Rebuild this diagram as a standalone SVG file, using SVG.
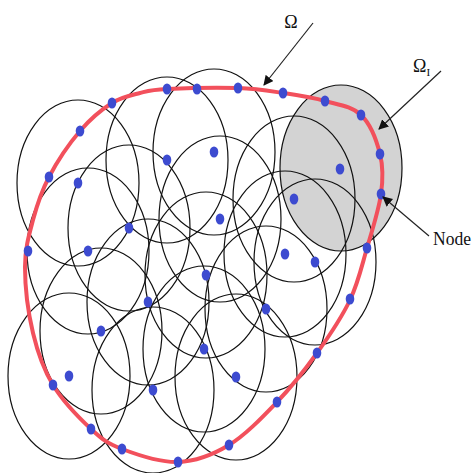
<svg xmlns="http://www.w3.org/2000/svg" width="476" height="473" viewBox="0 0 476 473">
<style>
.dom{fill:none;stroke:#111;stroke-width:1.2}
.sub{fill:#d3d3d3;stroke:#111;stroke-width:1.2}
.bnd{fill:none;stroke:#f2505c;stroke-width:4;stroke-linejoin:round}
.nd{fill:#3d4bd0}
.arr{stroke:#222;stroke-width:1.2;fill:none;marker-end:url(#ah)}
.lbl{font-family:"Liberation Serif","DejaVu Serif",serif;fill:#111}
</style>
<defs>
<marker id="ah" viewBox="0 0 10 10" refX="9" refY="5" markerWidth="10" markerHeight="10" markerUnits="userSpaceOnUse" orient="auto">
<path d="M0,0 L10,5 L0,10 z" fill="#111"/>
</marker>
</defs>
<rect width="476" height="473" fill="#fff"/>
<g id="subdomain">
<ellipse class="sub" cx="341" cy="168" rx="61" ry="83"/>
</g>
<g id="support-domains">
<ellipse class="dom" cx="78" cy="183" rx="61" ry="83"/>
<ellipse class="dom" cx="167" cy="160" rx="61" ry="83"/>
<ellipse class="dom" cx="214" cy="152" rx="61" ry="83"/>
<ellipse class="dom" cx="129" cy="228" rx="61" ry="83"/>
<ellipse class="dom" cx="220" cy="219" rx="61" ry="83"/>
<ellipse class="dom" cx="88" cy="251" rx="61" ry="83"/>
<ellipse class="dom" cx="148" cy="302" rx="61" ry="83"/>
<ellipse class="dom" cx="101" cy="331" rx="61" ry="83"/>
<ellipse class="dom" cx="69" cy="376" rx="61" ry="83"/>
<ellipse class="dom" cx="206" cy="275" rx="61" ry="83"/>
<ellipse class="dom" cx="204" cy="349" rx="61" ry="83"/>
<ellipse class="dom" cx="153" cy="390" rx="61" ry="83"/>
<ellipse class="dom" cx="236" cy="377" rx="61" ry="83"/>
<ellipse class="dom" cx="266" cy="309" rx="61" ry="83"/>
<ellipse class="dom" cx="285" cy="254" rx="61" ry="83"/>
<ellipse class="dom" cx="315" cy="262" rx="61" ry="83"/>
<ellipse class="dom" cx="294" cy="199" rx="61" ry="83"/>
</g>
<g id="boundary">
<path class="bnd" d="M140,93 C149.2,90.7 150.7,89.8 167,89 C183.3,88.2 218.7,87.3 238,88 C257.3,88.7 268.5,90.8 283,93 C297.5,95.2 312,97.3 325,101 C338,104.7 351.8,106.2 361,115 C370.2,123.8 376.7,140.8 380,154 C383.3,167.2 383.2,178.3 381,194 C378.8,209.7 372.2,230.3 367,248 C361.8,265.7 358.3,282.5 350,300 C341.7,317.5 329.2,336 317,353 C304.8,370 291.7,386.7 277,402 C262.3,417.3 245.5,435 229,445 C212.5,455 195.8,461.3 178,462 C160.2,462.7 136.5,454.5 122,449 C107.5,443.5 102.5,439.7 91,429 C79.5,418.3 62.7,401 53,385 C43.3,369 37.7,352.7 33,333 C28.3,313.3 25,285.8 25,267 C25,248.2 29,235 33,220 C37,205 41.2,191.8 49,177 C56.8,162.2 69.5,143.3 80,131 C90.5,118.7 102,109.3 112,103 C122,96.7 130.8,95.3 140,93 Z"/>
</g>
<g id="nodes">
<ellipse class="nd" cx="112" cy="103" rx="4.3" ry="5.5"/>
<ellipse class="nd" cx="80" cy="131" rx="4.3" ry="5.5"/>
<ellipse class="nd" cx="49" cy="177" rx="4.3" ry="5.5"/>
<ellipse class="nd" cx="28" cy="251" rx="4.3" ry="5.5"/>
<ellipse class="nd" cx="53" cy="385" rx="4.3" ry="5.5"/>
<ellipse class="nd" cx="91" cy="429" rx="4.3" ry="5.5"/>
<ellipse class="nd" cx="122" cy="449" rx="4.3" ry="5.5"/>
<ellipse class="nd" cx="178" cy="462" rx="4.3" ry="5.5"/>
<ellipse class="nd" cx="229" cy="445" rx="4.3" ry="5.5"/>
<ellipse class="nd" cx="277" cy="402" rx="4.3" ry="5.5"/>
<ellipse class="nd" cx="317" cy="353" rx="4.3" ry="5.5"/>
<ellipse class="nd" cx="350" cy="299" rx="4.3" ry="5.5"/>
<ellipse class="nd" cx="367" cy="248" rx="4.3" ry="5.5"/>
<ellipse class="nd" cx="381" cy="194" rx="4.3" ry="5.5"/>
<ellipse class="nd" cx="380" cy="154" rx="4.3" ry="5.5"/>
<ellipse class="nd" cx="361" cy="115" rx="4.3" ry="5.5"/>
<ellipse class="nd" cx="325" cy="101" rx="4.3" ry="5.5"/>
<ellipse class="nd" cx="283" cy="93" rx="4.3" ry="5.5"/>
<ellipse class="nd" cx="238" cy="88" rx="4.3" ry="5.5"/>
<ellipse class="nd" cx="197" cy="89" rx="4.3" ry="5.5"/>
<ellipse class="nd" cx="167" cy="89" rx="4.3" ry="5.5"/>
<ellipse class="nd" cx="78" cy="183" rx="4.3" ry="5.5"/>
<ellipse class="nd" cx="167" cy="160" rx="4.3" ry="5.5"/>
<ellipse class="nd" cx="214" cy="152" rx="4.3" ry="5.5"/>
<ellipse class="nd" cx="129" cy="228" rx="4.3" ry="5.5"/>
<ellipse class="nd" cx="220" cy="219" rx="4.3" ry="5.5"/>
<ellipse class="nd" cx="88" cy="251" rx="4.3" ry="5.5"/>
<ellipse class="nd" cx="148" cy="302" rx="4.3" ry="5.5"/>
<ellipse class="nd" cx="101" cy="331" rx="4.3" ry="5.5"/>
<ellipse class="nd" cx="69" cy="376" rx="4.3" ry="5.5"/>
<ellipse class="nd" cx="206" cy="275" rx="4.3" ry="5.5"/>
<ellipse class="nd" cx="204" cy="349" rx="4.3" ry="5.5"/>
<ellipse class="nd" cx="153" cy="390" rx="4.3" ry="5.5"/>
<ellipse class="nd" cx="236" cy="377" rx="4.3" ry="5.5"/>
<ellipse class="nd" cx="266" cy="309" rx="4.3" ry="5.5"/>
<ellipse class="nd" cx="285" cy="254" rx="4.3" ry="5.5"/>
<ellipse class="nd" cx="315" cy="262" rx="4.3" ry="5.5"/>
<ellipse class="nd" cx="294" cy="199" rx="4.3" ry="5.5"/>
<ellipse class="nd" cx="340" cy="169" rx="4.3" ry="5.5"/>
</g>
<g id="connectors">
<line class="arr" x1="313" y1="23" x2="264" y2="85"/>
<line class="arr" x1="441" y1="71" x2="379" y2="129"/>
<line class="arr" x1="429" y1="236" x2="383" y2="197"/>
</g>
<g id="labels">
<text class="lbl" x="291" y="28" font-size="18" text-anchor="middle">Ω</text>
<text class="lbl" x="413" y="72" font-size="18">Ω<tspan font-size="11" dy="4">I</tspan></text>
<text class="lbl" x="433" y="245" font-size="19" textLength="38" lengthAdjust="spacingAndGlyphs">Node</text>
</g>
</svg>
